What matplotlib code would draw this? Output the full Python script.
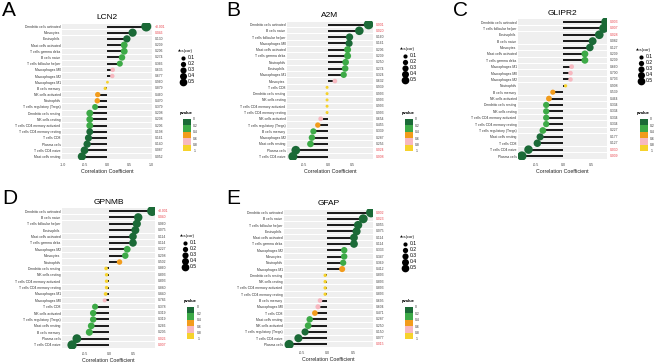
import matplotlib
matplotlib.use("Agg")
import matplotlib.pyplot as plt
import matplotlib.colors as mcolors
import matplotlib.transforms as mtrans
import numpy as np

plt.rcParams['font.family'] = ['Liberation Sans', 'DejaVu Sans']

# ---------------- data ----------------
labels_A = ["Dendritic cells activated", "Monocytes", "Eosinophils", "Mast cells activated",
            "T cells gamma delta", "B cells naive", "T cells follicular helper", "Macrophages M0",
            "Macrophages M2", "Macrophages M1", "B cells memory", "NK cells activated", "Neutrophils",
            "T cells regulatory (Tregs)", "Dendritic cells resting", "NK cells resting",
            "T cells CD4 memory activated", "T cells CD4 memory resting", "T cells CD8",
            "Plasma cells", "T cells CD4 naive", "Mast cells resting"]
cor_A = [0.89, 0.58, 0.45, 0.39, 0.39, 0.34, 0.29, 0.13, 0.12, 0.01, -0.04, -0.21, -0.22,
         -0.27, -0.39, -0.39, -0.39, -0.39, -0.42, -0.45, -0.51, -0.57]
p_A = ["<0.001", "0.046", "0.130", "0.209", "0.206", "0.274", "0.366", "0.635", "0.677",
       "0.960", "0.879", "0.460", "0.470", "0.379", "0.208", "0.208", "0.206", "0.198",
       "0.161", "0.140", "0.087", "0.052"]

labels_B = ["Dendritic cells activated", "B cells naive", "T cells follicular helper",
            "Macrophages M0", "Mast cells activated", "T cells gamma delta", "Neutrophils",
            "Eosinophils", "Macrophages M1", "Monocytes", "T cells CD8", "Dendritic cells resting",
            "NK cells resting", "T cells CD4 memory activated", "T cells CD4 memory resting",
            "NK cells activated", "T cells regulatory (Tregs)", "B cells memory", "Macrophages M2",
            "Mast cells resting", "Plasma cells", "T cells CD4 naive"]
cor_B = [0.83, 0.64, 0.44, 0.43, 0.40, 0.40, 0.36, 0.35, 0.32, 0.14, -0.02, -0.02, -0.02,
         -0.02, -0.02, -0.15, -0.21, -0.30, -0.33, -0.36, -0.66, -0.72]
p_B = ["0.001", "0.020", "0.160", "0.161", "0.206", "0.209", "0.250", "0.274", "0.324",
       "0.632", "0.939", "0.993", "0.993", "0.993", "0.993", "0.654", "0.455", "0.339",
       "0.287", "0.256", "0.024", "0.008"]

labels_C = ["Dendritic cells activated", "T cells follicular helper", "Eosinophils",
            "B cells naive", "Monocytes", "Mast cells activated", "T cells gamma delta",
            "Macrophages M1", "Macrophages M0", "Macrophages M2", "Neutrophils", "B cells memory",
            "NK cells activated", "Dendritic cells resting", "NK cells resting",
            "T cells CD4 memory activated", "T cells CD4 memory resting",
            "T cells regulatory (Tregs)", "Mast cells resting", "T cells CD8",
            "T cells CD4 naive", "Plasma cells"]
cor_C = [0.77, 0.73, 0.65, 0.53, 0.48, 0.39, 0.39, 0.15, 0.13, 0.13, 0.04, -0.19, -0.26,
         -0.31, -0.31, -0.31, -0.31, -0.37, -0.42, -0.47, -0.63, -0.75]
p_C = ["0.003", "0.007", "0.028", "0.082", "0.127", "0.209", "0.209", "0.660", "0.700",
       "0.703", "0.908", "0.539", "0.464", "0.334", "0.334", "0.334", "0.334", "0.227",
       "0.177", "0.127", "0.030", "0.009"]

labels_D = ["Dendritic cells activated", "B cells naive", "T cells follicular helper",
            "Eosinophils", "Mast cells activated", "T cells gamma delta", "Macrophages M2",
            "Monocytes", "Neutrophils", "Dendritic cells resting", "NK cells resting",
            "T cells CD4 memory activated", "T cells CD4 memory resting", "Macrophages M1",
            "Macrophages M0", "T cells CD8", "NK cells activated", "T cells regulatory (Tregs)",
            "Mast cells resting", "B cells memory", "Plasma cells", "T cells CD4 naive"]
cor_D = [0.90, 0.61, 0.58, 0.55, 0.50, 0.50, 0.38, 0.34, 0.22, -0.06, -0.05, -0.05, -0.05,
         -0.07, -0.09, -0.29, -0.33, -0.33, -0.37, -0.41, -0.67, -0.77]
p_D = ["<0.001", "0.040", "0.060", "0.075", "0.114", "0.114", "0.227", "0.298", "0.502",
       "0.860", "0.893", "0.893", "0.880", "0.840", "0.786", "0.378", "0.319", "0.319",
       "0.266", "0.205", "0.026", "0.007"]

labels_E = ["Dendritic cells activated", "B cells naive", "T cells follicular helper",
            "Eosinophils", "Mast cells activated", "T cells gamma delta", "Macrophages M2",
            "Monocytes", "Neutrophils", "Macrophages M1", "Dendritic cells resting",
            "NK cells resting", "T cells CD4 memory activated", "T cells CD4 memory resting",
            "B cells memory", "Macrophages M0", "T cells CD8", "Mast cells resting",
            "NK cells activated", "T cells regulatory (Tregs)", "T cells CD4 naive", "Plasma cells"]
cor_E = [0.85, 0.70, 0.60, 0.57, 0.52, 0.52, 0.33, 0.33, 0.31, 0.29, -0.04, -0.04, -0.04,
         -0.04, -0.14, -0.18, -0.24, -0.34, -0.37, -0.43, -0.56, -0.74]
p_E = ["0.002", "0.023", "0.055", "0.075", "0.114", "0.114", "0.333", "0.347", "0.369",
       "0.412", "0.893", "0.893", "0.893", "0.893", "0.695", "0.604", "0.471", "0.287",
       "0.250", "0.150", "0.077", "0.015"]

genes = ["LCN2", "A2M", "GLIPR2", "GPNMB", "GFAP"]
letters = ["A", "B", "C", "D", "E"]
size_breaks = [0.1, 0.2, 0.3, 0.4, 0.5]
p_breaks = [0, 0.2, 0.4, 0.6, 0.8, 1]
p_tick_labels = ["0", "0.2", "0.4", "0.6", "0.8", "1"]

# ---------------- style ----------------
W, H = 669, 363
pal = ['#1b6a37', '#3daa47', '#f29c1c', '#f7b8c0', '#f6d22c']
cmap = mcolors.ListedColormap(pal)
norm = mcolors.BoundaryNorm(p_breaks, cmap.N)


def msize(a):
    return 0.5184 * (6.9 + 104.6 * np.abs(np.asarray(a)))


def pnum(s):
    return float(s.replace("<", ""))


fig = plt.figure(figsize=(W / 100, H / 100), dpi=100)
over = fig.add_axes([0, 0, 1, 1], zorder=10)
over.set_xlim(0, W)
over.set_ylim(H, 0)
over.axis('off')
over.patch.set_alpha(0)


def panel(gene, letter, labels, cors, pvals, left, right, xlim, ytop, ybot, ticks, tick_labels,
          letter_xy, leg_xy, cb_xy):
    n = len(labels)
    sp = (ybot - ytop) / (n - 1)
    top = ytop - 0.6 * sp
    bot = ybot + 0.6 * sp
    ax = fig.add_axes([left / W, 1 - bot / H, (right - left) / W, (bot - top) / H])
    ys = np.arange(n)
    ax.set_xlim(*xlim)
    ax.set_ylim(n - 1 + 0.6, -0.6)
    for y in ys:
        ax.axhspan(y - 0.43, y + 0.43, color='#efefef', lw=0, zorder=0)
    ax.hlines(ys, 0, cors, color='#111111', lw=1.35, zorder=2)
    pv = np.array([pnum(s) for s in pvals])
    ax.scatter(cors, ys, s=msize(cors), c=pv, cmap=cmap, norm=norm, lw=0, zorder=3)
    ax.set_yticks(ys)
    ax.set_yticklabels(labels, fontsize=2.4, color='#333333')
    ax.set_xticks(ticks)
    ax.set_xticklabels(tick_labels, fontsize=2.6, color='#444444')
    ax.tick_params(axis='both', length=0)
    ax.tick_params(axis='y', pad=1)
    ax.tick_params(axis='x', pad=2)
    for s in ax.spines.values():
        s.set_visible(False)
    ax.set_xlabel("Correlation Coefficient", fontsize=3.8, labelpad=1.5, color='#222222')
    ax.set_title(gene, fontsize=6.0, pad=2.5)
    tr = mtrans.blended_transform_factory(ax.transAxes, ax.transData)
    for y, s, p in zip(ys, pvals, pv):
        ax.text(1 + 3.0 / (right - left), y, s, transform=tr, ha='left', va='center',
                fontsize=2.4, color=('#e8414a' if p < 0.05 else '#444444'))
    # letter
    over.text(letter_xy[0], letter_xy[1], letter, fontsize=15, ha='left', va='center')
    # size legend
    lx, ly = leg_xy
    over.text(lx, ly, "abs(cor)", fontsize=3.0, ha='left', va='center')
    for i, b in enumerate(size_breaks):
        yy = ly + 6.5 + i * 6.0
        over.scatter([lx + 4.5], [yy], s=msize(b), color='black', lw=0)
        over.text(lx + 9.5, yy, f"{b}", fontsize=3.6, ha='left', va='center')
    # colour bar
    cx, cy = cb_xy
    over.text(cx - 3, cy - 6, "pvalue", fontsize=3.0, fontweight='bold', ha='left', va='center')
    cax = fig.add_axes([cx / W, 1 - (cy + 32) / H, 7.5 / W, 32 / H])
    cb = matplotlib.colorbar.ColorbarBase(cax, cmap=cmap, norm=norm, ticks=p_breaks)
    cb.outline.set_visible(False)
    cax.invert_yaxis()
    cax.set_yticklabels(p_tick_labels)
    cax.tick_params(labelsize=2.4, length=0, pad=2, colors='#333333')


panel(genes[0], letters[0], labels_A, cor_A, p_A, 62, 152, (-1.02, 1.02), 26.5, 156.5,
      [-1, -0.5, 0, 0.5, 1], ["-1.0", "-0.5", "0.0", "0.5", "1.0"], (2, 11), (178, 51), (183, 119))
panel(genes[1], letters[1], labels_B, cor_B, p_B, 287, 373, (-0.84, 0.92), 24.5, 156.5,
      [-0.5, 0, 0.5], ["-0.5", "0.0", "0.5"], (226, 11), (400, 49), (405, 119))
panel(genes[2], letters[2], labels_C, cor_C, p_C, 518, 607, (-0.82, 0.79), 22, 156,
      [-0.5, 0, 0.5], ["-0.5", "0.0", "0.5"], (453, 11), (636, 50), (640, 119))
panel(genes[3], letters[3], labels_D, cor_D, p_D, 62, 155, (-0.98, 0.96), 211, 345,
      [-0.5, 0, 0.5], ["-0.5", "0.0", "0.5"], (2, 199), (180, 236), (187, 307))
panel(genes[4], letters[4], labels_E, cor_E, p_E, 284, 373, (-0.84, 0.89), 212.5, 344.5,
      [-0.5, 0, 0.5], ["-0.5", "0.0", "0.5"], (226, 199), (400, 237), (405, 307))

fig.savefig("out.png", dpi=100)
